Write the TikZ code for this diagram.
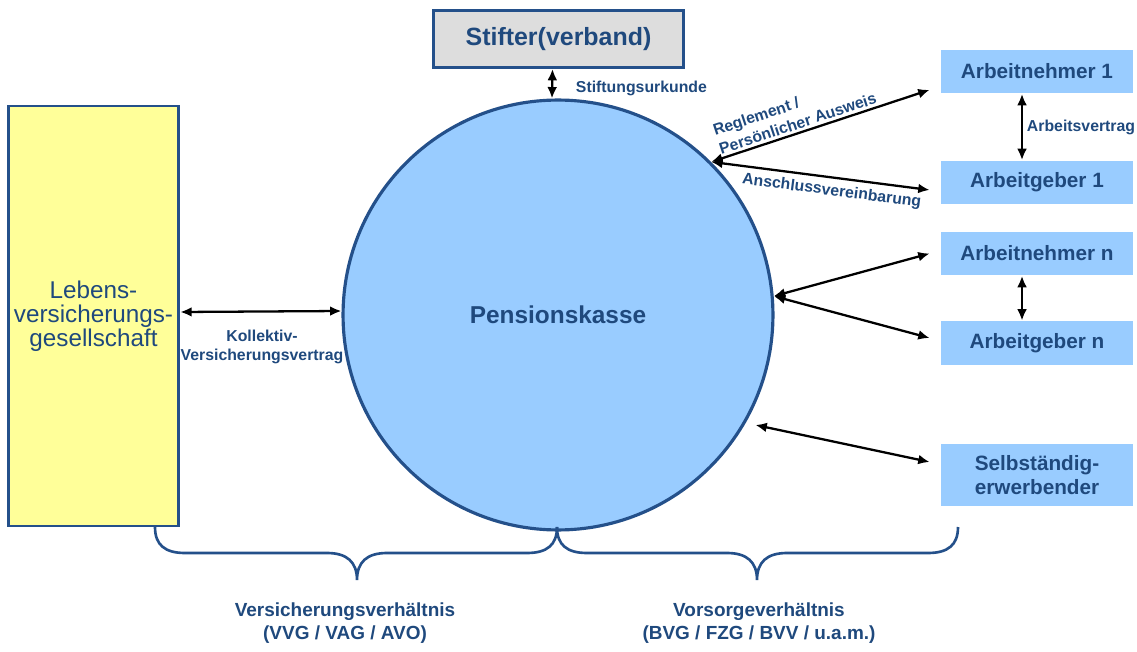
\documentclass[tikz,border=0pt]{standalone}
\usepackage{fontspec}
\setmainfont{Liberation Sans}
\usetikzlibrary{arrows.meta,calc}
\definecolor{dblue}{HTML}{1F497D}
\definecolor{lineblue}{HTML}{24508A}
\definecolor{lightblue}{HTML}{99CCFF}
\definecolor{yel}{HTML}{FFFF99}
\definecolor{gry}{HTML}{DDDDDD}
\begin{document}
\begin{tikzpicture}[x=0.02cm,y=-0.02cm,
  rbox/.style={fill=lightblue, minimum width=3.84cm, minimum height=0.88cm, inner sep=0pt,
    text=dblue, font=\fontsize{11.8}{13.6}\selectfont\bfseries, align=center},
  lbl/.style={text=dblue, font=\fontsize{9}{10.5}\selectfont\bfseries, inner sep=1.5pt},
  dbl/.style={{Latex[length=6.5pt,width=5.6pt]}-{Latex[length=6.5pt,width=5.6pt]}, line width=1.3pt, black},
  brace/.style={draw=lineblue, line width=1.5pt},
  bottomlbl/.style={text=dblue, font=\fontsize{10.8}{13}\selectfont\bfseries, align=center}
]
\useasboundingbox (0,0) rectangle (1137,652);

% main shapes
\node[draw=lineblue, line width=1.6pt, fill=yel, minimum width=3.36cm, minimum height=8.4cm,
  align=center, text=dblue, font=\fontsize{13.8}{13.6}\selectfont] (ly) at (93.5,316)
  {Lebens-\\versicherungs-\\gesellschaft};
\node[circle, draw=lineblue, line width=1.8pt, fill=lightblue, minimum size=8.6cm, inner sep=0pt,
  text=dblue, font=\fontsize{13.9}{16}\selectfont\bfseries] (pk) at (558,315) {Pensionskasse};
\node[draw=lineblue, line width=1.6pt, fill=gry, minimum width=5.0cm, minimum height=1.14cm,
  text=dblue, font=\fontsize{14.2}{16}\selectfont\bfseries] (st) at (558.5,39) {Stifter(verband)};

\node[rbox] (an1) at (1037,71.5) {Arbeitnehmer 1};
\node[rbox] (ag1) at (1037,182.5) {Arbeitgeber 1};
\node[rbox] (ann) at (1037,253.5) {Arbeitnehmer n};
\node[rbox] (agn) at (1037,343) {Arbeitgeber n};
\node[rbox, minimum height=1.24cm] (se) at (1037,475) {Selbständig-\\erwerbender};

% arrow end points near the right boxes
\coordinate (e1) at ($(an1.south west)+(-11,-4)$);
\coordinate (e2) at ($(ag1.west)+(-11,7.5)$);
\coordinate (e3) at ($(ann.west)+(-11,0)$);
\coordinate (e4) at ($(agn.west)+(-11,-5)$);
\coordinate (e5) at ($(se.west)+(-11,-13)$);

% connectors
\draw[dbl] ([xshift=-0.12cm]st.south) -- ([xshift=-0.12cm]pk.north);
\node[lbl, anchor=west] (lst) at (573,88) {Stiftungsurkunde};

\draw[dbl] ([yshift=0.08cm]ly.east) -- ([yshift=0.08cm]pk.west);
\node[lbl, align=center, font=\fontsize{9}{10.8}\selectfont\bfseries] (lkv) at (262,347)
  {Kollektiv-\\Versicherungsvertrag};

\draw[dbl] (pk.45) -- node[lbl, sloped, above, pos=0.41, align=left,
  font=\fontsize{9}{11.2}\selectfont\bfseries] (lrg) {Reglement /\\Persönlicher Ausweis} (e1);
\draw[dbl] (pk.45) -- node[lbl, sloped, below, pos=0.56, inner sep=3pt] (lan) {Anschlussvereinbarung} (e2);

\draw[dbl] (pk.5) -- (e3);
\draw[dbl] (pk.5) -- (e4);
\draw[dbl] ([shift={(8,5)}]pk.-29) -- (e5);

\draw[dbl] ($(an1.south)+(-15,0)$) -- ($(ag1.north)+(-15,0)$);
\node[lbl, anchor=west] (lav) at (1024,127) {Arbeitsvertrag};
\draw[dbl] ($(ann.south)+(-15,0)$) -- ($(agn.north)+(-15,0)$);

% braces
\draw[brace] (155,527) .. controls (155,545) and (165,553) .. (185,553) -- (327,553)
  .. controls (347,553) and (357,562) .. (357,580)
  .. controls (357,562) and (367,553) .. (387,553) -- (527,553)
  .. controls (547,553) and (557,545) .. (557,527);
\draw[brace] (557,527) .. controls (557,545) and (567,553) .. (587,553) -- (727,553)
  .. controls (747,553) and (757,562) .. (757,580)
  .. controls (757,562) and (767,553) .. (787,553) -- (928,553)
  .. controls (948,553) and (958,545) .. (958,527);

\node[bottomlbl] (bl1) at (345,623) {Versicherungsverhältnis\\(VVG / VAG / AVO)};
\node[bottomlbl] (bl2) at (759,623) {Vorsorgeverhältnis\\(BVG / FZG / BVV / u.a.m.)};
\end{tikzpicture}
\end{document}
